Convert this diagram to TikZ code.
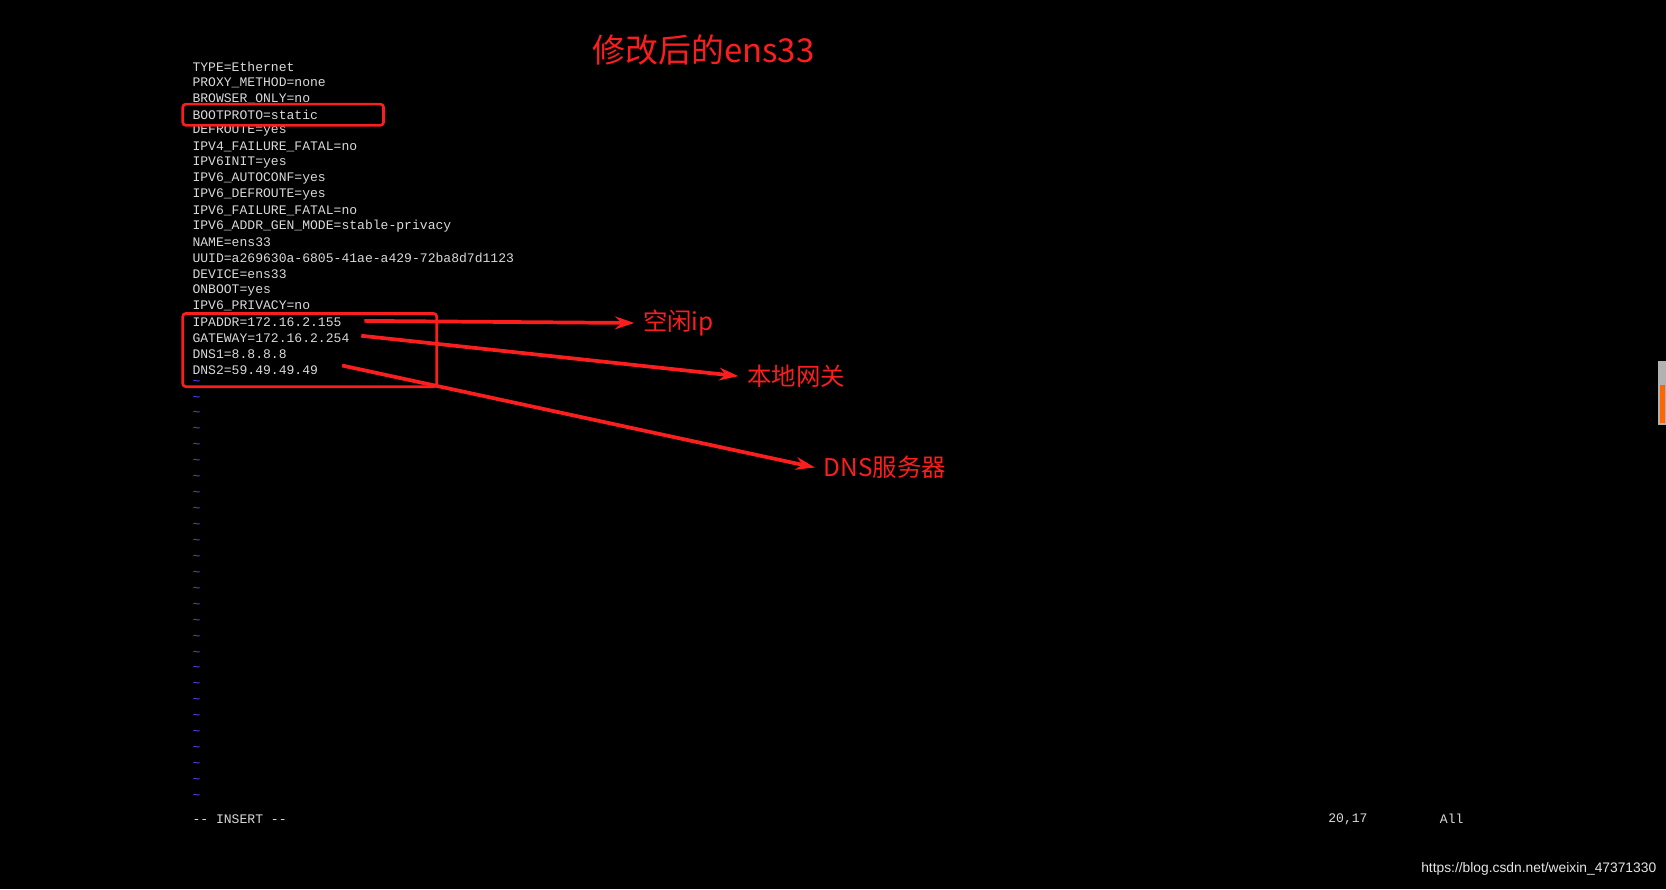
\documentclass[tikz,border=0pt]{standalone}
\usepackage{fontspec}
\setmonofont{Liberation Mono}
\newfontfamily\cjk{Noto Sans CJK SC}
\usetikzlibrary{arrows.meta}
\definecolor{markred}{RGB}{250,30,30}
\begin{document}
\begin{tikzpicture}[x=1pt,y=-1pt,
  term/.style={anchor=west,inner sep=0pt,text=white!85!black,font=\ttfamily\fontsize{12.3}{12.3}\selectfont},
  tilde/.style={anchor=west,inner sep=0pt,text=blue!70!white,font=\ttfamily\fontsize{12.3}{12.3}\selectfont},
  redbox/.style={draw=markred,line width=2.5pt,rounded corners=3pt},
  callout/.style={anchor=west,inner sep=0pt,text=markred,font=\cjk\fontsize{23}{23}\selectfont},
  pointer/.style={draw=markred,color=markred,line width=3.5pt,-{Stealth[length=18pt,width=12pt]}}]
\fill[black] (0,0) rectangle (1568,837);
\useasboundingbox (0,0) rectangle (1568,837);
\node[anchor=center,inner sep=0pt,text=markred,font=\cjk\fontsize{31}{31}\selectfont] (title) at (662,47) {修改后的ens33};
\foreach \t [count=\i] in {TYPE=Ethernet,PROXY\_METHOD=none,BROWSER\_ONLY=no,BOOTPROTO=static,DEFROUTE=yes,IPV4\_FAILURE\_FATAL=no,IPV6INIT=yes,IPV6\_AUTOCONF=yes,IPV6\_DEFROUTE=yes,IPV6\_FAILURE\_FATAL=no,IPV6\_ADDR\_GEN\_MODE=stable-privacy,NAME=ens33,UUID=a269630a-6805-41ae-a429-72ba8d7d1123,DEVICE=ens33,ONBOOT=yes,IPV6\_PRIVACY=no,IPADDR=172.16.2.155,GATEWAY=172.16.2.254,DNS1=8.8.8.8,DNS2=59.49.49.49}
  \node[term] (l\i) at (181,{48+15*\i}) {\t};
\foreach \i in {1,...,27}
  \node[tilde] (t\i) at (181,{345+15*\i}) {\char`\~};
\node[term] (ins) at (181,771) {-- INSERT --};
\node[term] (pos) at (1250,771) {20,17};
\node[term] (all) at (1355,771) {All};
\draw[redbox] (172,98) rectangle (361,118);
\draw[redbox] (172,295) rectangle (411,364);
\node[callout] (c1) at (605,304) {空闲ip};
\node[callout] (c2) at (703,354) {本地网关};
\node[callout] (c3) at (775,440) {DNS服务器};
\coordinate (s1) at (343,302);
\coordinate (s2) at (340,316);
\coordinate (s3) at (322,344);
\draw[pointer] (s1) -- ([xshift=-8pt]c1.west);
\draw[pointer] (s2) -- ([xshift=-8pt]c2.west);
\draw[pointer] (s3) -- ([xshift=-8pt]c3.west);
\fill[gray!60] (1560,340) rectangle (1568,400);
\fill[orange!80!red] (1562,362) rectangle (1567,398);
\node[anchor=east,inner sep=0pt,text=white!90!black,font=\fontspec{Liberation Sans}\fontsize{13}{13}\selectfont] (wm) at (1559,818) {https://blog.csdn.net/weixin\_47371330};
\end{tikzpicture}
\end{document}
